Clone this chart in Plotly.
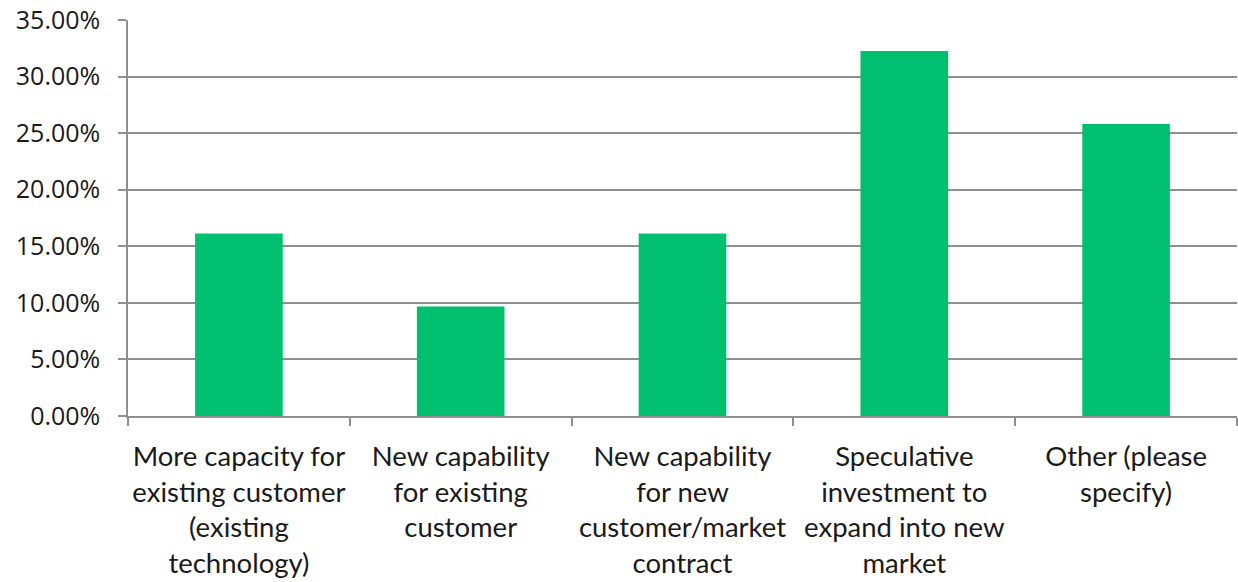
import plotly.graph_objects as go

categories = [
    "More capacity for<br>existing customer<br>(existing<br>technology)",
    "New capability<br>for existing<br>customer",
    "New capability<br>for new<br>customer/market<br>contract",
    "Speculative<br>investment to<br>expand into new<br>market",
    "Other (please<br>specify)",
]
shares = [0.1613, 0.0968, 0.1613, 0.3226, 0.2581]
y_ticks = [0, 0.05, 0.10, 0.15, 0.20, 0.25, 0.30, 0.35]

GRID = "#8f8f8f"

fig = go.Figure(
    go.Bar(
        x=categories,
        y=shares,
        marker=dict(color="#00BF6F", line=dict(width=0)),
        width=0.395,
    )
)

fig.update_layout(
    width=1238,
    height=582,
    margin=dict(l=128, r=1, t=20, b=166),
    paper_bgcolor="white",
    plot_bgcolor="white",
    font=dict(family="Lato", size=25, color="#1a1a1a"),
    showlegend=False,
)

fig.update_yaxes(
    range=[0, 0.35],
    tickvals=y_ticks,
    tickformat=".2%",
    tickfont=dict(family="Open Sans", size=25, color="#1a1a1a"),
    showgrid=True,
    gridcolor=GRID,
    gridwidth=1.5,
    showline=True,
    linecolor=GRID,
    linewidth=1.5,
    ticks="outside",
    ticklen=8,
    tickcolor=GRID,
    tickwidth=1.5,
    zeroline=False,
    ticklabelstandoff=13,
)

fig.update_xaxes(
    tickfont=dict(family="Lato", size=27.5, color="#1a1a1a"),
    showline=True,
    linecolor=GRID,
    linewidth=1.5,
    ticks="outside",
    tickson="boundaries",
    ticklen=8,
    tickcolor=GRID,
    tickwidth=1.5,
    showgrid=False,
    tickangle=0,
    ticklabelstandoff=15,
)

fig.write_html("out.html")
